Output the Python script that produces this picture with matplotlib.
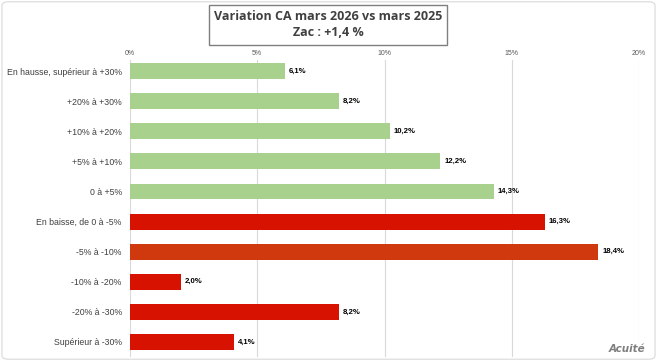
import matplotlib.pyplot as plt
from matplotlib.patches import FancyBboxPatch, Rectangle

# Categories and values (top to bottom)
categories = ["En hausse, supérieur à +30%", "+20% à +30%", "+10% à +20%", "+5% à +10%",
              "0 à +5%", "En baisse, de 0 à -5%", "-5% à -10%", "-10% à -20%",
              "-20% à -30%", "Supérieur à -30%"]
values = [6.1, 8.2, 10.2, 12.2, 14.3, 16.3, 18.4, 2.0, 8.2, 4.1]
colors = ["#A9D18E"] * 5 + ["#D81200", "#D0380E", "#D81200", "#D81200", "#D81200"]
ticks = [0, 5, 10, 15, 20]

fig = plt.figure(figsize=(6.57, 3.61), dpi=100)
ax = fig.add_axes([130 / 657, 4 / 361, 509 / 657, 297 / 361])

y = list(range(len(categories)))
ax.barh(y, values, height=0.53, color=colors, zorder=3)
ax.set_ylim(len(categories) - 0.5, -0.37)
ax.set_xlim(0, 20)

for yi, v in zip(y, values):
    ax.text(v + 0.15, yi, "{:.1f}%".format(v).replace(".", ","), va="center", ha="left",
            fontsize=5.6, fontweight="bold", color="black", family="Liberation Sans")

ax.set_yticks(y)
ax.set_yticklabels(categories, fontsize=6.3, color="#404040", family="Liberation Sans")
ax.set_xticks(ticks)
ax.set_xticklabels(["{}%".format(t) for t in ticks], fontsize=5, color="#595959",
                   family="Liberation Sans")
ax.xaxis.tick_top()
ax.tick_params(axis="x", length=0, pad=2.5)
ax.tick_params(axis="y", length=0, pad=6)
ax.grid(axis="x", color="#D9D9D9", linewidth=0.8, zorder=0)
for s in ax.spines.values():
    s.set_visible(False)

# Title box
fig.patches.append(Rectangle((209 / 657, 1 - 45 / 361), 238 / 657, 40 / 361,
                             transform=fig.transFigure, facecolor="white",
                             edgecolor="#7F7F7F", linewidth=1))
fig.text(328 / 657, 1 - 16 / 361, "Variation CA mars 2026 vs mars 2025", ha="center", va="center",
         fontsize=9, fontweight="bold", color="#404040", family="Open Sans")
fig.text(328 / 657, 1 - 33 / 361, "Zac : +1,4 %", ha="center", va="center",
         fontsize=9, fontweight="bold", color="#404040", family="Open Sans")

# Outer border
fig.patches.append(FancyBboxPatch((0.003, 0.005), 0.994, 0.99, boxstyle="round,pad=0,rounding_size=0.01",
                                  transform=fig.transFigure, facecolor="none",
                                  edgecolor="#D9D9D9", linewidth=0.8))

# Watermark
fig.text(645 / 657, 1 - 349 / 361, "Acuité", ha="right", va="center", fontsize=7.5,
         fontweight="heavy", style="italic", color="#7F7F7F", family="DejaVu Sans")

fig.savefig("out.png", dpi=100)
